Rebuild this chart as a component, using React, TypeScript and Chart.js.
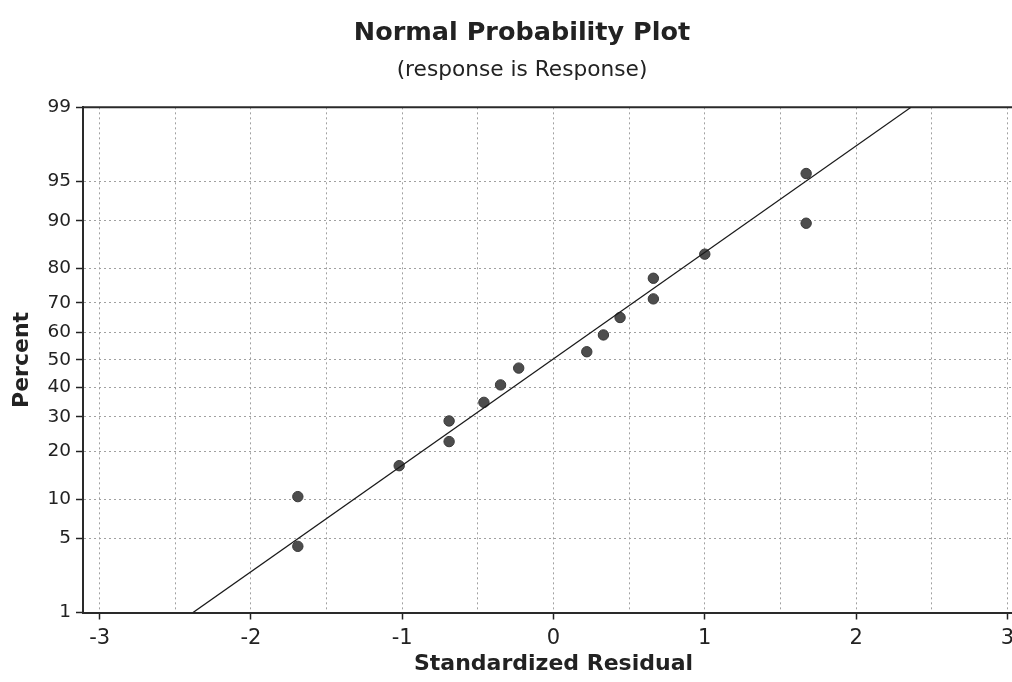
import React, { useEffect, useRef } from 'react';
import { Chart, registerables } from 'chart.js';

Chart.register(...registerables);

// ---- data ----
const residuals = [-1.69, -1.69, -1.02, -0.69, -0.69, -0.46, -0.35, -0.23, 0.22, 0.33, 0.44, 0.66, 0.66, 1.0, 1.67, 1.67];
const percents = [4.3, 10.4, 16.5, 22.6, 28.7, 34.8, 40.9, 47.0, 53.0, 59.1, 65.2, 71.3, 77.4, 83.5, 89.6, 95.7];
const yTickPercents = [1, 5, 10, 20, 30, 40, 50, 60, 70, 80, 90, 95, 99];
const xTickValues = [-3, -2, -1, 0, 1, 2, 3];
const xGridValues = [-3, -2.5, -2, -1.5, -1, -0.5, 0, 0.5, 1, 1.5, 2, 2.5, 3];
const fitMean = -0.01;
const fitStdDev = 1.02;
const xMin = -3.11;
const xMax = 3.11;
const yMinPercent = 1;
const yMaxPercent = 99;

const titleText = 'Normal Probability Plot';
const subtitleText = '(response is Response)';
const xTitle = 'Standardized Residual';
const yTitle = 'Percent';

// inverse standard normal CDF (probability-plot scale)
function probit(p: number): number {
  const a = [-3.969683028665376e1, 2.209460984245205e2, -2.759285104469687e2, 1.38357751867269e2, -3.066479806614716e1, 2.506628277459239];
  const b = [-5.447609879822406e1, 1.615858368580409e2, -1.556989798598866e2, 6.680131188771972e1, -1.328068155288572e1];
  const c = [-7.784894002430293e-3, -3.223964580411365e-1, -2.400758277161838, -2.549732539343734, 4.374664141464968, 2.938163982698783];
  const d = [7.784695709041462e-3, 3.224671290700398e-1, 2.445134137142996, 3.754408661907416];
  const pl = 0.02425;
  if (p < pl) {
    const q = Math.sqrt(-2 * Math.log(p));
    return (((((c[0] * q + c[1]) * q + c[2]) * q + c[3]) * q + c[4]) * q + c[5]) / ((((d[0] * q + d[1]) * q + d[2]) * q + d[3]) * q + 1);
  }
  if (p > 1 - pl) {
    const q = Math.sqrt(-2 * Math.log(1 - p));
    return -(((((c[0] * q + c[1]) * q + c[2]) * q + c[3]) * q + c[4]) * q + c[5]) / ((((d[0] * q + d[1]) * q + d[2]) * q + d[3]) * q + 1);
  }
  const q = p - 0.5;
  const r = q * q;
  return ((((((a[0] * r + a[1]) * r + a[2]) * r + a[3]) * r + a[4]) * r + a[5]) * q) / (((((b[0] * r + b[1]) * r + b[2]) * r + b[3]) * r + b[4]) * r + 1);
}

const topBorder = {
  id: 'topBorder',
  beforeDatasetsDraw(chart: any) {
    const { ctx, chartArea } = chart;
    ctx.save();
    ctx.strokeStyle = '#2a2a2a';
    ctx.lineWidth = 2;
    ctx.beginPath();
    ctx.moveTo(chartArea.left, chartArea.top);
    ctx.lineTo(chartArea.right, chartArea.top);
    ctx.stroke();
    ctx.restore();
  },
};

export default function App() {
  const ref = useRef<HTMLCanvasElement>(null);

  useEffect(() => {
    document.body.style.margin = '0';
    Chart.defaults.font.family = "'DejaVu Sans', sans-serif";
    const zLow = probit(yMinPercent / 100);
    const zHigh = probit(yMaxPercent / 100);
    const points = residuals.map((x, i) => ({ x, y: probit(percents[i] / 100) }));
    const fitLine = [zLow, zHigh].map((z) => ({ x: fitMean + fitStdDev * z, y: z }));

    const chart = new Chart(ref.current!, {
      type: 'scatter',
      data: {
        datasets: [
          {
            data: fitLine,
            showLine: true,
            borderColor: '#1a1a1a',
            borderWidth: 1.3,
            pointRadius: 0,
          },
          {
            data: points,
            pointRadius: 5.2,
            pointBackgroundColor: '#4d4d4d',
            pointBorderColor: '#383838',
            pointBorderWidth: 1,
          },
        ],
      },
      options: {
        animation: false,
        responsive: true,
        maintainAspectRatio: false,
        layout: { padding: { left: 20, right: 20, top: 0, bottom: 0 } },
        plugins: {
          legend: { display: false },
          tooltip: { enabled: false },
          title: {
            display: true,
            text: titleText,
            color: '#222',
            font: { size: 25.5, weight: 'bold' },
            padding: { top: 17.7, bottom: 0 },
          },
          subtitle: {
            display: true,
            text: subtitleText,
            color: '#222',
            font: { size: 21.7 },
            padding: { top: 9, bottom: 24 },
          },
        },
        scales: {
          x: {
            type: 'linear',
            min: xMin,
            max: xMax,
            afterBuildTicks: (s: any) => {
              s.ticks = xGridValues.map((v) => ({ value: v }));
            },
            afterFit: (s: any) => {
              s.height = 69.5;
            },
            ticks: {
              autoSkip: false,
              maxRotation: 0,
              color: '#222',
              font: { size: 21 },
              padding: 6,
              callback: (v: any) => (xTickValues.includes(Number(v)) ? String(v) : ''),
            },
            grid: {
              color: '#a0a0a0',
              lineWidth: 1,
              drawTicks: true,
              tickLength: 7,
              tickWidth: 1.5,
              tickBorderDash: [],
              tickColor: (ctx: any) => (xTickValues.includes(ctx.tick?.value) ? '#222' : 'rgba(0,0,0,0)'),
            },
            border: { display: true, color: '#2a2a2a', width: 2, dash: [2, 3] },
            title: {
              display: true,
              text: xTitle,
              color: '#222',
              font: { size: 22, weight: 'bold' },
              padding: { top: 0, bottom: 5 },
            },
          },
          y: {
            type: 'linear',
            min: zLow,
            max: zHigh,
            afterBuildTicks: (s: any) => {
              s.ticks = yTickPercents.map((p) => ({ value: probit(p / 100) }));
            },
            afterFit: (s: any) => {
              s.width = 63;
            },
            ticks: {
              autoSkip: false,
              color: '#222',
              font: { size: 18.5 },
              padding: 5,
              callback: (_v: any, i: number) => String(yTickPercents[i]),
            },
            grid: {
              color: '#a0a0a0',
              lineWidth: 1,
              drawTicks: true,
              tickLength: 7,
              tickWidth: 1.5,
              tickBorderDash: [],
              tickColor: '#222',
            },
            border: { display: true, color: '#2a2a2a', width: 2, dash: [2, 3] },
            title: {
              display: true,
              text: yTitle,
              color: '#222',
              font: { size: 22, weight: 'bold' },
              padding: { top: -11.2, bottom: 0 },
            },
          },
        },
      },
      plugins: [topBorder],
    });
    return () => chart.destroy();
  }, []);

  return (
    <div style={{ width: 1012, height: 682, overflow: 'hidden', background: '#fff' }}>
      <div style={{ position: 'relative', width: 1044, height: 682 }}>
        <canvas ref={ref} />
      </div>
    </div>
  );
}
